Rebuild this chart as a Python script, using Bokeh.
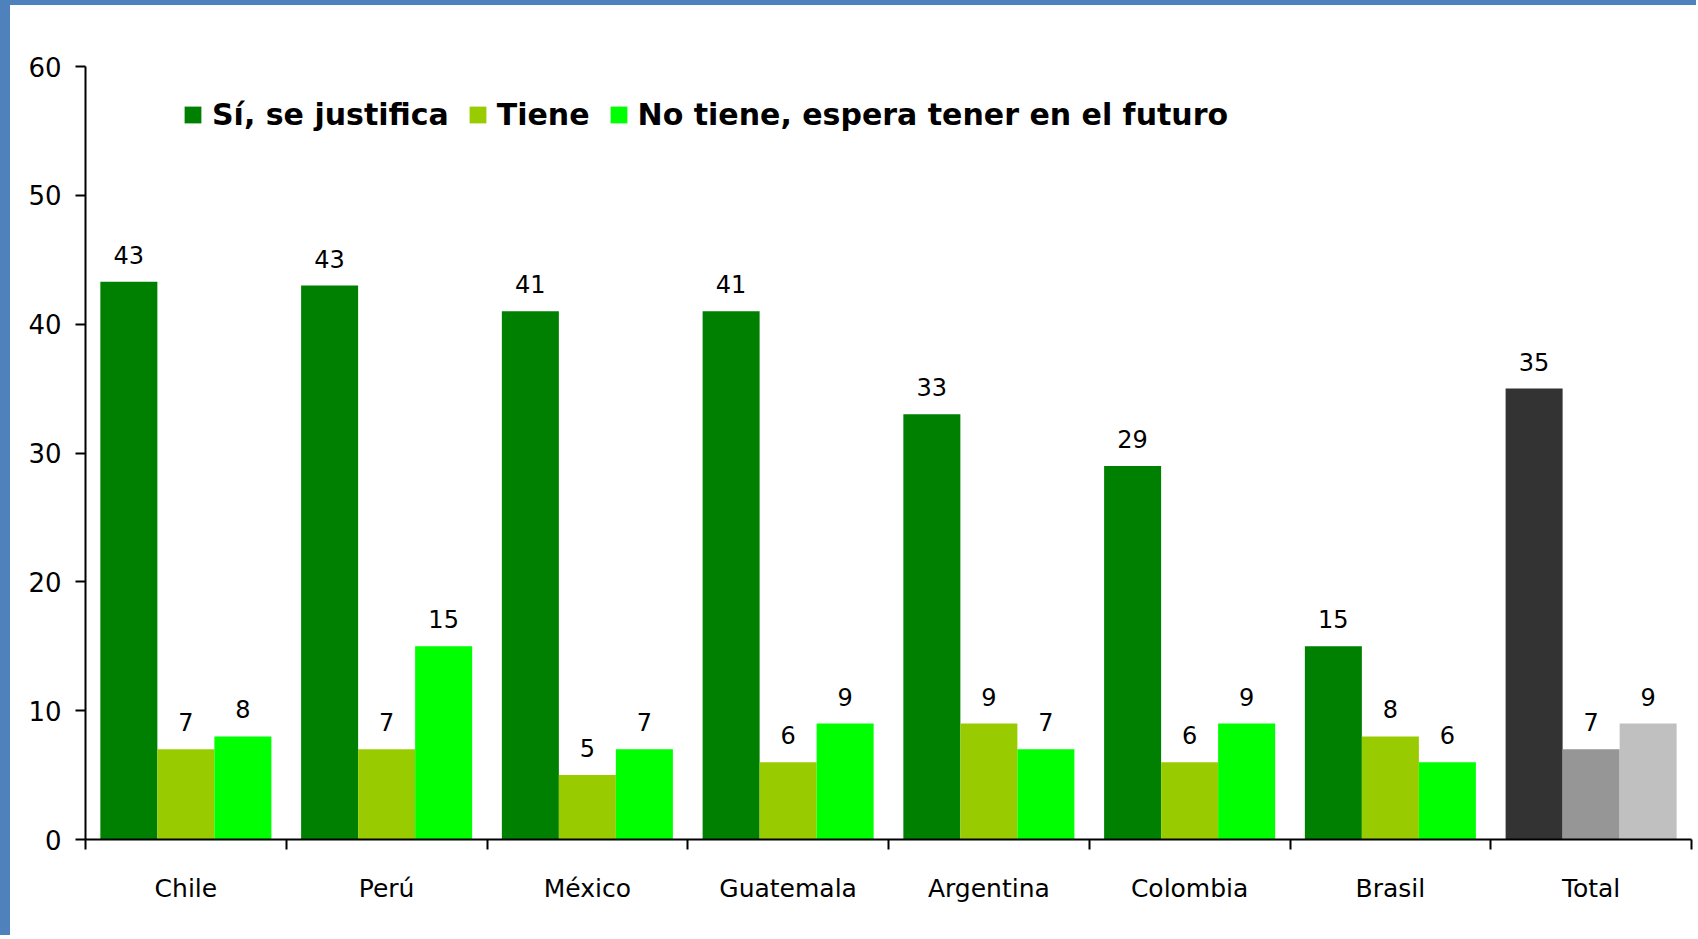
from bokeh.plotting import figure
from bokeh.models import (ColumnDataSource, Range1d, FixedTicker, LabelSet,
                          Legend, LegendItem)
from bokeh.core.properties import value
from bokeh.transform import dodge
from bokeh.embed import file_html
from bokeh.resources import INLINE

categories = ["Chile", "Perú", "México", "Guatemala", "Argentina", "Colombia", "Brasil", "Total"]
series_names = ["Sí, se justifica", "Tiene", "No tiene, espera tener en el futuro"]
si_justifica = [43.3, 43.0, 41.0, 41.0, 33.0, 29.0, 15.0, 35.0]
tiene = [7.0, 7.0, 5.0, 6.0, 9.0, 6.0, 8.0, 7.0]
no_tiene = [8.0, 15.0, 7.0, 9.0, 7.0, 9.0, 6.0, 9.0]
country_colors = ["#008000", "#99CC00", "#00FF00"]
total_colors = ["#333333", "#969696", "#C0C0C0"]
y_ticks = [0, 10, 20, 30, 40, 50, 60]

FONT = "DejaVu Sans"
BAR_W = 0.284
offsets = [-BAR_W, 0.0, BAR_W]

p = figure(width=1696, height=935,
           x_range=Range1d(-0.5, len(categories) - 0.5),
           y_range=Range1d(0, 60),
           output_backend="svg", toolbar_location=None,
           min_border_left=85, min_border_right=5,
           min_border_top=66, min_border_bottom=96)
p.outline_line_color = None
p.xgrid.grid_line_color = None
p.ygrid.grid_line_color = None
p.background_fill_color = "white"
p.border_fill_color = None
# blue page frame on the left and top edges
p.styles = {"background-color": "white",
            "box-shadow": "inset 10px 5px 0 0 #4F81BD"}

idx = list(range(len(categories)))
items = []
for s, (name, vals) in enumerate(zip(series_names, [si_justifica, tiene, no_tiene])):
    colors = [total_colors[s] if c == "Total" else country_colors[s] for c in categories]
    src = ColumnDataSource(dict(x=idx, top=vals, color=colors,
                                label=[f"{v:.0f}" for v in vals]))
    r = p.vbar(x=dodge("x", offsets[s], range=p.x_range), top="top", width=BAR_W,
               bottom=0, source=src, fill_color="color", line_color=None)
    items.append(LegendItem(label=name, renderers=[r], index=0))
    lbl = LabelSet(x=dodge("x", offsets[s], range=p.x_range), y="top", text="label",
                   source=src, text_align="center", text_baseline="alphabetic",
                   y_offset=18, text_font=value(FONT), text_font_size="24px",
                   text_color="black")
    p.add_layout(lbl)

legend = Legend(items=items, orientation="horizontal", location=(97, 707),
                glyph_width=21, glyph_height=21, label_standoff=9, spacing=18,
                padding=0, margin=0, border_line_color=None,
                background_fill_alpha=0,
                label_text_font=FONT, label_text_font_size="30px",
                label_text_font_style="bold", label_text_color="black")
p.add_layout(legend, "center")

# x axis: labels centered under groups, ticks at group boundaries
xax = p.xaxis[0]
xax.ticker = FixedTicker(ticks=idx, minor_ticks=[i - 0.5 for i in range(len(categories) + 1)])
xax.major_label_overrides = {i: c for i, c in enumerate(categories)}
xax.major_tick_out = 0
xax.major_tick_in = 0
xax.minor_tick_out = 10
xax.minor_tick_in = 0
xax.minor_tick_line_color = "black"
xax.minor_tick_line_width = 2
xax.axis_line_color = "black"
xax.axis_line_width = 2
xax.major_label_standoff = 24
xax.major_label_text_font = FONT
xax.major_label_text_font_size = "25px"
xax.major_label_text_color = "black"

yax = p.yaxis[0]
yax.ticker = FixedTicker(ticks=y_ticks)
yax.major_tick_out = 10
yax.major_tick_in = 0
yax.minor_tick_out = 0
yax.minor_tick_in = 0
yax.major_tick_line_color = "black"
yax.major_tick_line_width = 2
yax.axis_line_color = "black"
yax.axis_line_width = 2
yax.major_label_standoff = 14
yax.major_label_text_font = FONT
yax.major_label_text_font_size = "26px"
yax.major_label_text_color = "black"

open("out.html", "w").write(file_html(p, INLINE))
